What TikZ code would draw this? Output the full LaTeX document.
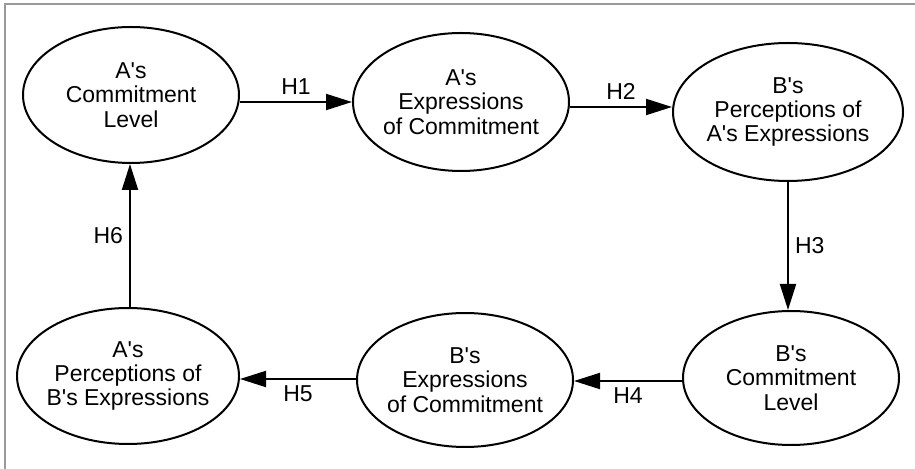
\documentclass[tikz,border=0pt]{standalone}
\usepackage{fontspec}
\setmainfont{Liberation Sans}
\usetikzlibrary{arrows.meta,shapes.geometric}
\newcommand{\ap}{\textquotesingle}

\begin{document}
\begin{tikzpicture}[x=0.5pt, y=-0.5pt, >={Triangle[length=13pt,width=8pt]},
  font=\fontsize{11.5}{12.2}\selectfont,
  construct/.style={draw, line width=1pt, ellipse, inner sep=-6pt, align=center},
  conn/.style={->, line width=1pt},
  hyp/.style={inner sep=3pt}]

% Canvas and frame
\useasboundingbox (0,0) rectangle (915,469);
\draw[gray!80, line width=0.6pt] (915,4) -- (5,4) -- (5,469);

% ---- Constructs of A and B ----
\node[construct, minimum width=108pt, minimum height=68pt] (aLevel) at (131,95) {A\ap s\\Commitment\\Level};
\node[construct, minimum width=108pt, minimum height=69pt] (aExpr) at (461,102) {A\ap s\\Expressions\\of Commitment};
\node[construct, minimum width=115pt, minimum height=69pt] (bPerc) at (788,112) {B\ap s\\Perceptions of\\A\ap s Expressions};
\node[construct, minimum width=108pt, minimum height=67pt] (bLevel) at (791,378) {B\ap s\\Commitment\\Level};
\node[construct, minimum width=108pt, minimum height=67pt] (bExpr) at (465,380) {B\ap s\\Expressions\\of Commitment};
\node[construct, minimum width=111pt, minimum height=68pt] (aPerc) at (128,376) {A\ap s\\Perceptions of\\B\ap s Expressions};

% ---- Hypothesised links H1--H6 ----
\draw[conn] (aLevel.east |- aExpr.west) -- (aExpr.west) node[hyp, midway, above] (h1) {H1};
\draw[conn] (aExpr.east |- 0,107) -- (bPerc.west |- 0,107) node[hyp, midway, above] (h2) {H2};
\draw[conn] (bPerc.south) -- (bPerc.south |- bLevel.north) node[hyp, midway, right] (h3) {H3};
\draw[conn] (bLevel.west |- 0,381) -- (bExpr.east |- 0,381) node[hyp, midway, below] (h4) {H4};
\draw[conn] (bExpr.west |- 0,379) -- (aPerc.east |- 0,379) node[hyp, midway, below] (h5) {H5};
\draw[conn] (aPerc.north -| 130,0) -- (aLevel.south -| 130,0) node[hyp, midway, left] (h6) {H6};

\end{tikzpicture}
\end{document}
